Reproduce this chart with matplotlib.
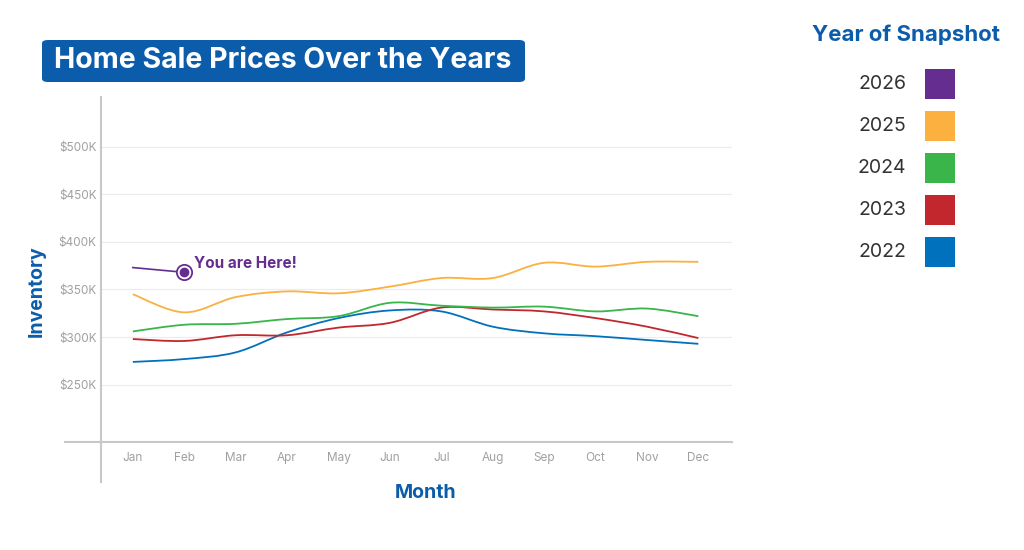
import matplotlib.pyplot as plt
from matplotlib.path import Path
from matplotlib.patches import PathPatch, FancyBboxPatch, Rectangle

plt.rcParams['font.family'] = ['Inter', 'DejaVu Sans']

months = ["Jan", "Feb", "Mar", "Apr", "May", "Jun", "Jul", "Aug", "Sep", "Oct", "Nov", "Dec"]
years = ["2026", "2025", "2024", "2023", "2022"]
colors = ["#662D91", "#FBB040", "#39B54A", "#C1272D", "#0071BC"]

# prices in $K
p2025 = [345, 326, 342, 348, 346, 353, 362, 362, 378, 374, 379, 379]
p2024 = [306, 313, 314, 319, 322, 336, 333, 331, 332, 327, 330, 322]
p2023 = [298, 296, 302, 302, 310, 315, 331, 329, 327, 320, 311, 299]
p2022 = [274, 277, 284, 305, 320, 328, 327, 311, 304, 301, 297, 293]
p2026 = [373, 368]

yticks = [250, 300, 350, 400, 450, 500]
blue = "#0B5CAB"


def smooth_path(xs, ys):
    pts = list(zip(xs, ys))
    verts = [pts[0]]
    codes = [Path.MOVETO]
    n = len(pts)
    for i in range(n - 1):
        p0 = pts[i - 1] if i > 0 else pts[i]
        p1 = pts[i]
        p2 = pts[i + 1]
        p3 = pts[i + 2] if i + 2 < n else pts[i + 1]
        c1 = (p1[0] + (p2[0] - p0[0]) / 6, p1[1] + (p2[1] - p0[1]) / 6)
        c2 = (p2[0] - (p3[0] - p1[0]) / 6, p2[1] - (p3[1] - p1[1]) / 6)
        verts += [c1, c2, p2]
        codes += [Path.CURVE4] * 3
    return Path(verts, codes)


fig = plt.figure(figsize=(10.24, 5.5), dpi=100)
ax = fig.add_axes([0.0986, 0.1964, 0.616, 0.6273])
ax.set_xlim(-0.62, 11.65)
ax.set_ylim(190, 552)

for v in yticks:
    ax.axhline(v, color="#ececec", lw=0.8, zorder=0)

xs = list(range(12))
for vals, c in zip([p2022, p2023, p2024, p2025], [colors[4], colors[3], colors[2], colors[1]]):
    ax.add_patch(PathPatch(smooth_path(xs, vals), facecolor="none", edgecolor=c, lw=1.3, zorder=2))

ax.plot([0, 1], p2026, color=colors[0], lw=1.2, zorder=3)
ax.plot(1, p2026[1], "o", ms=11, mfc="white", mec=colors[0], mew=1.3, zorder=4)
ax.plot(1, p2026[1], "o", ms=6, color=colors[0], zorder=5)
ax.annotate("You are Here!", (1, p2026[1]), xytext=(7, 6), textcoords="offset points",
            color=colors[0], fontsize=11, fontweight="bold", va="center")

for s in ax.spines.values():
    s.set_visible(False)
ax.set_xticks(xs)
ax.set_xticklabels(months)
ax.set_yticks(yticks)
ax.set_yticklabels(["$%dK" % v for v in yticks])
ax.tick_params(length=0, colors="#a0a0a0", labelsize=8.5)
ax.tick_params(axis="x", pad=7)
ax.tick_params(axis="y", pad=3)

# crossing axis lines
fig.add_artist(plt.Line2D([65 / 1024, 732 / 1024], [1 - 442 / 550] * 2, color="#c8c8c8", lw=1.5))
fig.add_artist(plt.Line2D([101 / 1024] * 2, [1 - 97 / 550, 1 - 482 / 550], color="#c8c8c8", lw=1.5))

fig.text(426 / 1024, 1 - 493 / 550, "Month", color=blue, fontsize=14, fontweight="bold", ha="center", va="center")
fig.text(37 / 1024, 1 - 291 / 550, "Inventory", color=blue, fontsize=14, fontweight="bold",
         ha="center", va="center", rotation=90)

# title box
fig.add_artist(FancyBboxPatch((42 / 1024, 1 - 82 / 550), 483 / 1024, 42 / 550,
                              boxstyle="round,pad=0,rounding_size=0.006", transform=fig.transFigure,
                              facecolor=blue, edgecolor="none"))
fig.text(283 / 1024, 1 - 60 / 550, "Home Sale Prices Over the Years", color="white", fontsize=20.5,
         fontweight="bold", ha="center", va="center")

# legend
fig.text(906 / 1024, 1 - 35 / 550, "Year of Snapshot", color=blue, fontsize=16, fontweight="bold",
         ha="center", va="center")
for i, (yr, c) in enumerate(zip(years, colors)):
    yc = 84 + 42 * i
    fig.text(906 / 1024, 1 - yc / 550, yr, color="#333333", fontsize=14, ha="right", va="center")
    fig.add_artist(Rectangle((925 / 1024, 1 - (yc + 15) / 550), 30 / 1024, 30 / 550,
                             transform=fig.transFigure, facecolor=c, edgecolor="none"))

fig.savefig("out.png", dpi=100)
